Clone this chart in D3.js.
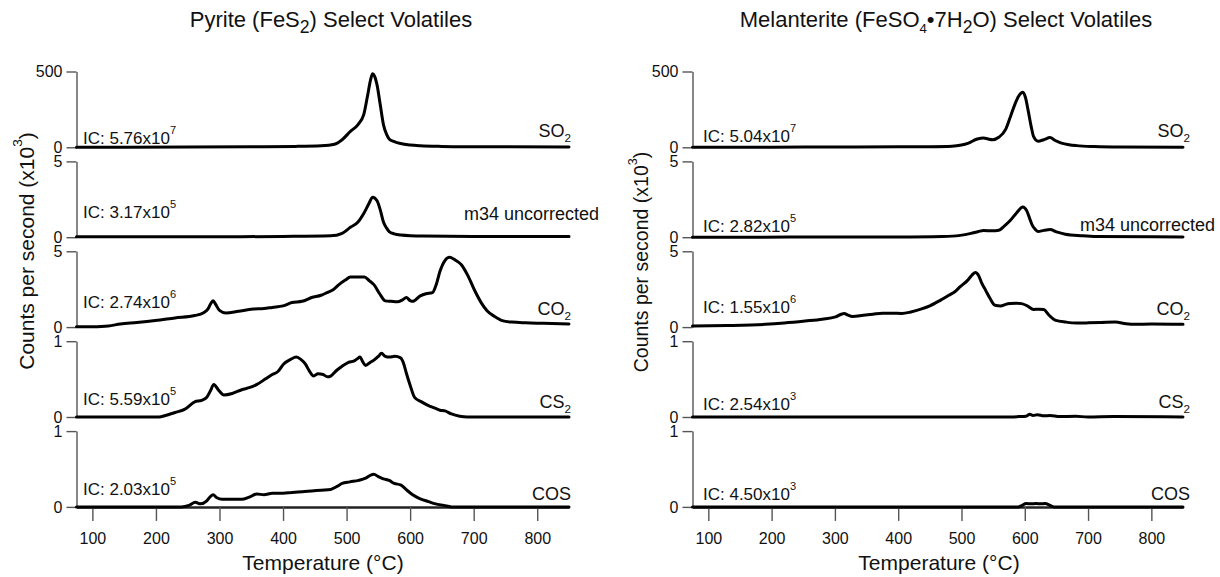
<!DOCTYPE html>
<html><head><meta charset="utf-8">
<script src="https://cdn.jsdelivr.net/npm/d3@7"></script>
<style>
body{margin:0;background:#fff}
svg{display:block}
text{font-family:"Liberation Sans",Arial,Helvetica,sans-serif;fill:#111}
</style>
</head><body>
<svg id="chart" width="1220" height="577"></svg>
<script>
// ---------- data ----------
const temperatureTicks = [100, 200, 300, 400, 500, 600, 700, 800];
const temperatureDomain = [75, 850];
const rowMax = [500, 5, 5, 1, 1];
const seriesLabels = [
  [["SO",""],["2","sub"]],
  [["m34 uncorrected",""]],
  [["CO",""],["2","sub"]],
  [["CS",""],["2","sub"]],
  [["COS",""]]
];
const pyriteIC = [["5.76","7"],["3.17","5"],["2.74","6"],["5.59","5"],["2.03","5"]];
const melanteriteIC = [["5.04","7"],["2.82","5"],["1.55","6"],["2.54","3"],["4.50","3"]];

const pyriteSO2 = [[75,1],[150,1],[250,2],[350,4],[420,6],[460,10],[481,20],[493,50],[506,105],[518,150],[527,215],[533,340],[538,450],[541,485],[544,470],[548,410],[553,280],[558,150],[563,85],[567,55],[575,38],[585,25],[600,15],[616,10],[650,6],[700,4],[850,2]];
const pyriteM34 = [[75,0.03],[300,0.03],[400,0.05],[475,0.09],[493,0.26],[506,0.65],[518,1.0],[527,1.56],[535,2.2],[541,2.64],[548,2.4],[553,1.8],[558,1.0],[563,0.6],[567,0.37],[575,0.22],[585,0.15],[620,0.08],[700,0.05],[850,0.04]];
const pyriteCO2 = [[75,0.02],[100,0.03],[125,0.08],[144,0.2],[170,0.3],[199,0.43],[230,0.6],[261,0.76],[275,0.95],[282,1.2],[287,1.6],[290,1.73],[294,1.5],[300,1.1],[310,0.93],[330,1.05],[353,1.19],[370,1.22],[383,1.3],[400,1.4],[414,1.62],[430,1.7],[445,1.95],[460,2.1],[469,2.27],[480,2.5],[488,2.8],[498,3.1],[506,3.3],[518,3.3],[528,3.3],[536,3.05],[543,2.8],[552,2.2],[561,1.73],[570,1.7],[580,1.67],[588,1.8],[594,1.95],[600,1.75],[604,1.7],[616,2.06],[625,2.2],[635,2.27],[641,2.8],[647,3.68],[655,4.4],[662,4.6],[670,4.45],[681,4.1],[692,3.3],[702,2.38],[712,1.6],[721,1.08],[733,0.7],[745,0.43],[760,0.33],[782,0.28],[810,0.25],[850,0.2]];
const pyriteCS2 = [[75,0],[205,0],[215,0.02],[230,0.06],[245,0.1],[261,0.2],[272,0.22],[280,0.26],[286,0.35],[291,0.43],[298,0.36],[307,0.29],[320,0.31],[335,0.36],[348,0.39],[359,0.43],[372,0.5],[383,0.56],[392,0.6],[401,0.7],[412,0.76],[421,0.79],[428,0.76],[435,0.7],[442,0.6],[448,0.54],[455,0.57],[463,0.56],[470,0.53],[475,0.54],[485,0.62],[493,0.67],[503,0.72],[512,0.74],[517,0.77],[521,0.79],[526,0.72],[530,0.68],[537,0.72],[543,0.75],[550,0.8],[555,0.84],[561,0.8],[567,0.79],[576,0.8],[585,0.78],[590,0.7],[594,0.58],[600,0.42],[607,0.26],[618,0.2],[629,0.15],[638,0.12],[647,0.09],[655,0.08],[665,0.04],[678,0.01],[690,0],[850,0]];
const pyriteCOS = [[75,0],[240,0],[252,0.02],[262,0.06],[270,0.04],[280,0.08],[286,0.14],[290,0.16],[296,0.12],[304,0.1],[320,0.1],[335,0.1],[347,0.13],[359,0.17],[370,0.16],[383,0.18],[400,0.18],[414,0.19],[430,0.2],[445,0.21],[460,0.22],[475,0.23],[485,0.27],[493,0.31],[505,0.33],[519,0.35],[530,0.38],[538,0.42],[543,0.43],[550,0.4],[558,0.37],[567,0.35],[575,0.31],[585,0.29],[595,0.22],[604,0.16],[615,0.11],[629,0.07],[640,0.04],[653,0.02],[665,0],[850,0]];

const melanteriteSO2 = [[75,0],[200,1],[300,2],[400,3],[450,4],[485,7],[500,15],[510,26],[525,55],[535,62],[542,55],[549,50],[559,66],[570,120],[578,210],[585,290],[590,335],[597,363],[601,330],[605,250],[610,140],[614,70],[621,40],[630,50],[640,64],[648,45],[658,28],[670,17],[682,11],[710,5],[750,2],[850,1]];
const melanteriteM34 = [[75,0],[400,0.02],[470,0.05],[498,0.12],[515,0.25],[527,0.38],[535,0.44],[548,0.42],[559,0.46],[568,0.75],[577,1.1],[587,1.6],[597,2.0],[603,1.75],[608,1.2],[612,0.78],[617,0.5],[621,0.38],[630,0.45],[640,0.5],[650,0.35],[664,0.2],[690,0.1],[713,0.05],[850,0.02]];
const melanteriteCO2 = [[75,0.07],[130,0.1],[190,0.18],[220,0.27],[253,0.4],[280,0.52],[301,0.67],[310,0.85],[315,0.89],[320,0.8],[328,0.7],[345,0.78],[360,0.85],[375,0.92],[390,0.92],[406,0.9],[420,1.0],[437,1.2],[450,1.4],[467,1.78],[480,2.1],[490,2.35],[498,2.67],[510,3.1],[517,3.45],[522,3.6],[527,3.4],[532,2.9],[538,2.44],[545,1.9],[553,1.44],[562,1.4],[570,1.5],[577,1.55],[587,1.58],[595,1.55],[604,1.4],[614,1.16],[622,1.18],[630,1.16],[638,0.8],[649,0.44],[665,0.33],[682,0.27],[700,0.28],[720,0.3],[743,0.33],[760,0.22],[774,0.18],[800,0.2],[850,0.18]];
const melanteriteCS2 = [[75,0],[570,0],[590,0.005],[602,0.01],[608,0.035],[613,0.02],[620,0.03],[630,0.015],[640,0.02],[655,0.005],[680,0.01],[700,0],[740,0.005],[850,0]];
const melanteriteCOS = [[75,0],[590,0],[596,0.02],[602,0.045],[610,0.04],[618,0.045],[625,0.04],[632,0.045],[640,0.02],[646,0],[850,0]];

const pyriteTitle = [["Pyrite (FeS",""],["2","sub",0.8],[") Select Volatiles",""]];
const melanteriteTitle = [["Melanterite (FeSO",""],["4","sub",0.6],["\u20227H",""],["2","sub",0.8],["O) Select Volatiles",""]];
const yLabelParts = [["Counts per second (x10",""],["3","sup"],[")",""]];
const xLabelText = "Temperature (\u00B0C)";

// ---------- layout ----------
const panels = [
  {series:[pyriteSO2,pyriteM34,pyriteCO2,pyriteCS2,pyriteCOS], ic:pyriteIC, title:pyriteTitle,
   x0:76.5, x1:569, titleX:331, xLabelX:323, yLabelX:34, yLabelY:251, yLabelSize:21,
   icX:83, icOff:[3,19,19,12,12], labX:[571,599,571,571,571], labOff:[10,17,12,9,7]},
  {series:[melanteriteSO2,melanteriteM34,melanteriteCO2,melanteriteCS2,melanteriteCOS], ic:melanteriteIC, title:melanteriteTitle,
   x0:692.5, x1:1183, titleX:946, xLabelX:939, yLabelX:648, yLabelY:262, yLabelSize:19.5,
   icX:703, icOff:[5,5,14,7,7], labX:[1190,1215,1190,1190,1190], labOff:[10,6,12,9,7]}
];
const rowTop = i => 71.5 + 89.9*i;
const rowH = 75.8;

const svg = d3.select("#chart");

function rich(t, parts, size){
  let shift = 0;
  parts.forEach(([s,k,sc]) => {
    const target = k==="sub" ? size*0.28 : k==="sup" ? -size*0.58 : 0;
    const fs = k ? size*(sc||0.65) : size;
    t.append("tspan").attr("dy", (target-shift).toFixed(2)).attr("font-size", fs).text(s);
    shift = target;
  });
}

panels.forEach(p => {
  const x = d3.scaleLinear().domain(temperatureDomain).range([p.x0, p.x1]);
  const g = svg.append("g");

  // title
  const tt = g.append("text").attr("x", p.titleX).attr("y", 27).attr("text-anchor","middle").attr("font-size",22);
  rich(tt, p.title, 22);

  // y label
  const yl = g.append("text").attr("transform",`translate(${p.yLabelX},${p.yLabelY}) rotate(-90)`)
    .attr("text-anchor","middle").attr("font-size",p.yLabelSize);
  rich(yl, yLabelParts, p.yLabelSize);

  p.series.forEach((data, i) => {
    const top = rowTop(i), zero = top + rowH;
    const y = d3.scaleLinear().domain([0, rowMax[i]]).range([zero, top]);

    const ax = g.append("g").attr("transform",`translate(${p.x0},0)`)
      .call(d3.axisLeft(y).tickValues([0,rowMax[i]]).tickSize(10).tickSizeOuter(0).tickPadding(4).tickFormat(d3.format("d")));
    ax.selectAll("path,line").attr("stroke","#555").attr("stroke-width",1.4);
    ax.selectAll("text").attr("font-size",16).attr("fill","#111").style("font-family","'Liberation Sans',Arial,sans-serif");

    if (i === 4) {
      const bx = g.append("g").attr("transform",`translate(0,${zero})`)
        .call(d3.axisBottom(x).tickValues(temperatureTicks).tickSize(14).tickSizeOuter(0).tickPadding(12));
      bx.selectAll("path").attr("stroke","#222").attr("stroke-width",2.5);
      bx.selectAll("line").attr("stroke","#555").attr("stroke-width",1.4);
      bx.selectAll("text").attr("font-size",16).attr("fill","#111").style("font-family","'Liberation Sans',Arial,sans-serif");
    }

    const line = d3.line().x(d => x(d[0])).y(d => y(d[1])).curve(d3.curveMonotoneX);
    g.append("path").datum(data).attr("d", line)
      .attr("fill","none").attr("stroke","#000").attr("stroke-width",3)
      .attr("stroke-linejoin","round").attr("stroke-linecap","round");

    // IC label
    const ic = g.append("text").attr("x", p.icX).attr("y", zero - p.icOff[i]).attr("font-size",17);
    rich(ic, [["IC: "+p.ic[i][0]+"x10",""],[p.ic[i][1],"sup"]], 17);

    // series label
    const sl = g.append("text").attr("x", p.labX[i]).attr("y", zero - p.labOff[i]).attr("text-anchor","end").attr("font-size",18);
    rich(sl, seriesLabels[i], 18);
  });

  g.append("text").attr("x", p.xLabelX).attr("y", 570).attr("text-anchor","middle").attr("font-size",21).text(xLabelText);
});
</script>
</body></html>
